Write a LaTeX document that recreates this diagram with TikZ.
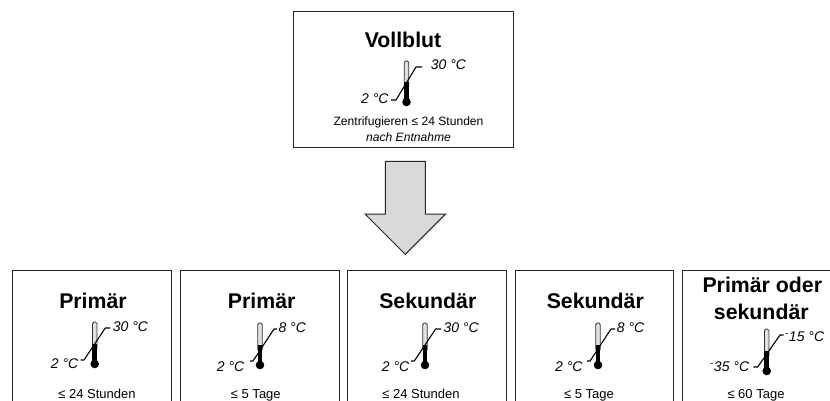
\documentclass[tikz,border=0pt]{standalone}
\usepackage{fontspec}
\setmainfont{Liberation Sans}
\tikzset{
  x=1pt,y=-1pt,
  boxline/.style={draw=black!85,line width=1pt},
  title/.style={anchor=base,inner sep=0pt,font=\fontsize{21.3}{21.3}\selectfont\bfseries},
  temp/.style={anchor=base west,inner sep=0pt,font=\fontsize{14}{14}\selectfont\itshape},
  small/.style={anchor=base,inner sep=0pt,font=\fontsize{12.1}{12.1}\selectfont},
  note/.style={anchor=base,inner sep=0pt,font=\fontsize{13}{13}\selectfont},
  leader/.style={draw=black,line width=1.1pt,line join=round},
}
% bulb x, bulb y, lower-left leader dx, bend dx, upper dx, end dx, low dy, high dy, tube height
\newcommand{\thermo}[9]{%
  \begin{scope}[shift={(#1,#2)}]
    \fill[black!12,rounded corners=1.5pt] (-2.2,-#9) rectangle (2.2,-15);
    \draw[draw=black!80,line width=.8pt,rounded corners=1.5pt] (-2.2,-15) -- (-2.2,-#9) -- (2.2,-#9) -- (2.2,-15);
    \fill[black] (-2.4,-20) rectangle (2.4,0);
    \fill[black] (0,0) circle (4.3);
    \draw[leader] (#3,#7) -- (#4,#7) -- (#5,#8) -- (#6,#8);
  \end{scope}}
\begin{document}
\begin{tikzpicture}
\useasboundingbox (0,0) rectangle (830,401);
\fill[white] (0,0) rectangle (830,401);
% upper box
\draw[boxline] (293.7,11.3) rectangle (513.3,147.7);
\node[title] (tv) at (403,48) {Vollblut};
\thermo{406.5}{102}{-15.5}{-10.5}{9.5}{15.5}{-2}{-35}{41}
\node[temp] (a1) at (361,103.3) {2 °C};
\node[temp] (a2) at (430.7,69.3) {30 °C};
\node[small] (n1) at (408.5,126) {Zentrifugieren ≤ 24 Stunden};
\node[small,font=\fontsize{12.1}{12.1}\selectfont\itshape] (n2) at (408.5,142) {nach Entnahme};
% arrow
\draw[draw=black!85,line width=1pt,fill=black!15,line join=miter]
  (385.3,161.3) -- (425.3,161.3) -- (425.3,214) -- (445.7,214) -- (405.3,254.3) -- (365,214) -- (385.3,214) -- cycle;
% lower boxes, open at the foot of the picture
\draw[boxline] (12.7,401) -- (12.7,270.3) -- (171.7,270.3) -- (171.7,401);
\draw[boxline] (180.3,401) -- (180.3,270.3) -- (339,270.3) -- (339,401);
\draw[boxline] (347.3,401) -- (347.3,270.3) -- (506.3,270.3) -- (506.3,401);
\draw[boxline] (515.3,401) -- (515.3,270.3) -- (673.7,270.3) -- (673.7,401);
\draw[boxline] (682.7,401) -- (682.7,270.3) -- (830,270.3);
% 1
\node[title] (t1) at (93,308.3) {Primär};
\thermo{94.7}{364}{-14}{-10.7}{10.6}{15.3}{-4}{-36}{42}
\node[temp] (b1) at (50.7,368) {2 °C};
\node[temp] (c1) at (112.7,331.7) {30 °C};
\node[note] (d1) at (97,398.3) {≤ 24 Stunden};
% 2
\node[title] (t2) at (261.7,308.3) {Primär};
\thermo{260}{365}{-10}{-7}{14}{17}{-4}{-36}{42}
\node[temp] (b2) at (216.7,371) {2 °C};
\node[temp] (c2) at (278.3,332.7) {8 °C};
\node[note] (d2) at (255.8,398.3) {≤ 5 Tage};
% 3
\node[title] (t3) at (427.8,308.3) {Sekundär};
\thermo{425}{365}{-14}{-10.7}{10.6}{16}{-4}{-36}{42}
\node[temp] (b3) at (381.7,371) {2 °C};
\node[temp] (c3) at (443.3,332.7) {30 °C};
\node[note] (d3) at (421,398.3) {≤ 24 Stunden};
% 4
\node[title] (t4) at (595.3,308.3) {Sekundär};
\thermo{598}{365}{-11}{-8}{13}{17}{-4}{-36}{42}
\node[temp] (b4) at (555,371) {2 °C};
\node[temp] (c4) at (616.7,332.7) {8 °C};
\node[note] (d4) at (589,398.3) {≤ 5 Tage};
% 5
\node[title] (t5) at (762.3,292) {Primär oder};
\node[title] (t6) at (761.3,319) {sekundär};
\thermo{766.7}{371}{-13.4}{-9}{13.3}{17}{-4}{-36}{42}
\node[temp] (b5) at (710,371.7) {\textsuperscript{-}35 °C};
\node[temp] (c5) at (785,341.7) {\textsuperscript{-}15 °C};
\node[note] (d5) at (756,398.3) {≤ 60 Tage};
\end{tikzpicture}
\end{document}
